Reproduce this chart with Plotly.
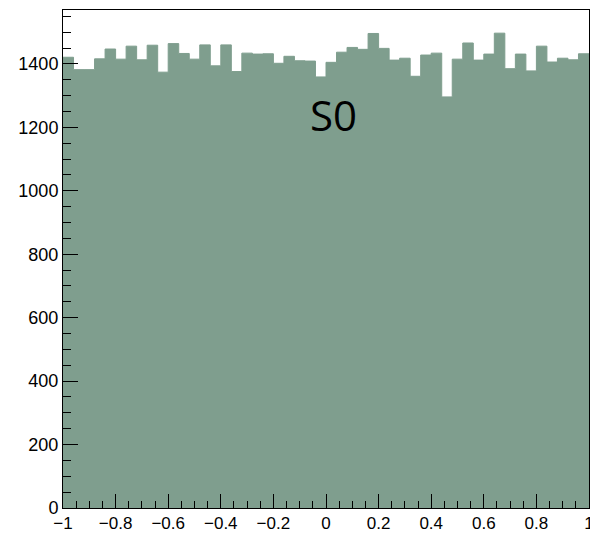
import numpy as np
import plotly.graph_objects as go

# Histogram: 50 equal bins on [-1, 1]
bin_low = -1.0
bin_high = 1.0
n_bins = 50
counts = [1421, 1382, 1382, 1416, 1447, 1415, 1456, 1413, 1459, 1374,
          1464, 1433, 1415, 1460, 1394, 1460, 1376, 1434, 1431, 1432,
          1402, 1424, 1410, 1409, 1359, 1405, 1437, 1452, 1446, 1496,
          1449, 1412, 1418, 1361, 1428, 1434, 1296, 1415, 1466, 1412,
          1431, 1497, 1385, 1431, 1378, 1456, 1406, 1418, 1413, 1432]
x_ticks = [-1, -0.8, -0.6, -0.4, -0.2, 0, 0.2, 0.4, 0.6, 0.8, 1]
x_tick_text = ["\u22121", "\u22120.8", "\u22120.6", "\u22120.4", "\u22120.2",
               "0", "0.2", "0.4", "0.6", "0.8", "1"]
y_ticks = [0, 200, 400, 600, 800, 1000, 1200, 1400]
label_text = "S0"

bin_width = (bin_high - bin_low) / n_bins
edges = bin_low + bin_width * np.arange(n_bins + 1)
# step outline: each bin's height holds from its low edge to the next edge
step_y = list(counts) + [counts[-1]]

fill = "#7f9e8e"

fig = go.Figure()
fig.add_trace(go.Scatter(
    x=edges, y=step_y, mode="lines",
    line=dict(shape="hv", color=fill, width=1),
    fill="tozeroy", fillcolor=fill,
    hoverinfo="skip",
))

fig.add_annotation(
    x=0.03, y=1240, xref="x", yref="y",
    text=label_text, showarrow=False,
    font=dict(family="Open Sans", size=42, color="black"),
)

x_font = dict(family="Liberation Sans, Arial", size=17, color="black")
y_font = dict(family="Liberation Sans, Arial", size=18, color="black")

fig.update_layout(
    width=590, height=534,
    margin=dict(l=63, r=1, t=10, b=26),
    paper_bgcolor="white", plot_bgcolor="white",
    showlegend=False,
    xaxis=dict(
        range=[bin_low, bin_high], automargin=False,
        tickmode="array", tickvals=x_ticks, ticktext=x_tick_text,
        ticks="inside", ticklen=14, tickwidth=1, tickcolor="black",
        minor=dict(dtick=0.05, tick0=0, ticks="inside", ticklen=7,
                   tickwidth=1, tickcolor="black", showgrid=False),
        showline=True, linecolor="black", linewidth=1, mirror=True,
        showgrid=False, zeroline=False,
        ticklabeloverflow="allow",
        tickfont=x_font,
    ),
    yaxis=dict(
        range=[0, 1570], automargin=False,
        tickmode="array", tickvals=y_ticks,
        ticks="inside", ticklen=15, tickwidth=1, tickcolor="black",
        minor=dict(dtick=50, tick0=0, ticks="inside", ticklen=8,
                   tickwidth=1, tickcolor="black", showgrid=False),
        showline=True, linecolor="black", linewidth=1, mirror=True,
        showgrid=False, zeroline=False,
        tickfont=y_font,
    ),
)

fig.write_html("out.html")
